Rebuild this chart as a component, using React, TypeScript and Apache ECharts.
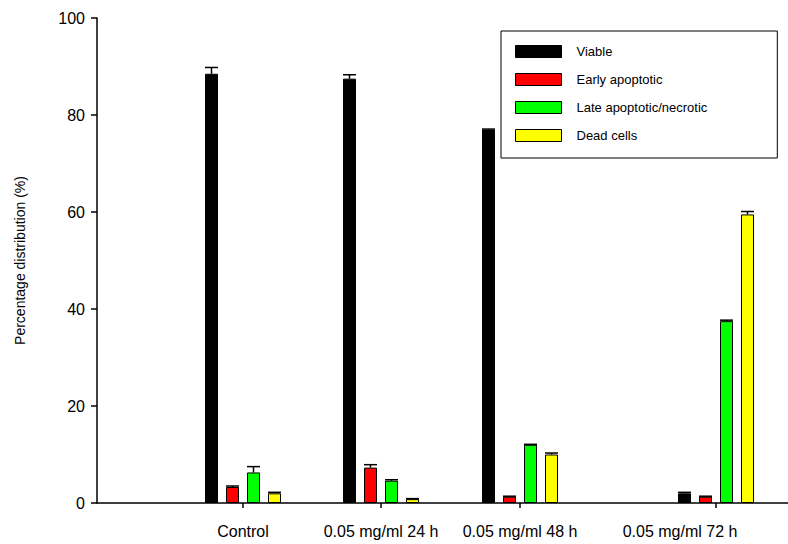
import { useEffect, useRef } from 'react'
import * as echarts from 'echarts'

const categories = ['Control', '0.05 mg/ml 24 h', '0.05 mg/ml 48 h', '0.05 mg/ml 72 h']
const groupPos = [243, 381, 520, 716]
const seriesNames = ['Viable', 'Early apoptotic', 'Late apoptotic/necrotic', 'Dead cells']
const colors = ['#000000', '#ff0000', '#00ff00', '#ffff00']
const offsets = [-31.5, -10.5, 10.5, 31.5]
const values = [
  [88.5, 87.5, 77, 2],
  [3.3, 7.3, 1.3, 1.3],
  [6.3, 4.6, 12, 37.5],
  [2, 0.8, 10, 59.5],
]
const errors = [
  [1.3, 0.8, 0.1, 0.2],
  [0.2, 0.6, 0.1, 0.1],
  [1.2, 0.2, 0.1, 0.2],
  [0.2, 0.1, 0.3, 0.6],
]
const yTicks = [0, 20, 40, 60, 80, 100]

export default function App() {
  const ref = useRef<HTMLDivElement>(null)

  useEffect(() => {
    if (!ref.current) return
    const chart = echarts.init(ref.current, undefined, { renderer: 'svg' })
    const barSeries = seriesNames.map((name, s) => ({
      type: 'bar', name, barWidth: 13, barGap: '-100%',
      data: values[s].map((v, i) => [groupPos[i] + offsets[s], v]),
      itemStyle: { color: colors[s], borderColor: '#000', borderWidth: 1 },
      z: 3,
    }))
    const errSeries = seriesNames.map((name, s) => ({
      type: 'custom', name: name + ' err', z: 4,
      data: values[s].map((v, i) => [groupPos[i] + offsets[s], v, v + errors[s][i]]),
      renderItem: (_p: any, api: any) => {
        const lo = api.coord([api.value(0), api.value(1)])
        const hi = api.coord([api.value(0), api.value(2)])
        const st = { stroke: '#000', lineWidth: 1.5 }
        return {
          type: 'group',
          children: [
            { type: 'line', shape: { x1: lo[0], y1: lo[1], x2: hi[0], y2: hi[1] }, style: st },
            { type: 'line', shape: { x1: hi[0] - 6.5, y1: hi[1], x2: hi[0] + 6.5, y2: hi[1] }, style: st },
          ],
        }
      },
    }))
    chart.setOption({
      animation: false,
      textStyle: { fontFamily: 'Liberation Sans, Arial, sans-serif' },
      grid: { left: 97, right: 0, top: 18, bottom: 41 },
      legend: {
        data: seriesNames, orient: 'vertical', left: 501, top: 31, width: 278,
        icon: 'rect', itemWidth: 46, itemHeight: 12, itemGap: 15, padding: [14, 70, 16, 14],
        borderColor: '#000', borderWidth: 1, backgroundColor: '#fff',
        textStyle: { fontSize: 13, color: '#000', padding: [0, 0, 0, 10] },
        itemStyle: { borderColor: '#000', borderWidth: 1 },
      },
      xAxis: {
        type: 'value', min: 97, max: 788,
        axisLine: { lineStyle: { color: '#000', width: 1.5 } },
        splitLine: { show: false },
        axisTick: { customValues: groupPos, length: 5, lineStyle: { color: '#000', width: 1.5 } },
        axisLabel: {
          customValues: groupPos, margin: 20, fontSize: 16, color: '#000',
          formatter: (v: number) => {
            const i = groupPos.indexOf(v)
            return i === 3 ? '{last|' + categories[i] + '}' : categories[i]
          },
          rich: { last: { fontSize: 16, color: '#000', padding: [0, 72, 0, 0] } },
        },
      },
      yAxis: {
        type: 'value', min: 0, max: 100, interval: 20,
        name: 'Percentage distribution (%)', nameLocation: 'middle', nameGap: 70,
        nameTextStyle: { fontSize: 14, color: '#000' },
        axisLine: { show: true, lineStyle: { color: '#000', width: 1.5 } },
        axisTick: { show: true, length: 6, lineStyle: { color: '#000', width: 1.5 } },
        axisLabel: { fontSize: 16, color: '#000', margin: 12, formatter: (v: number) => (yTicks.includes(v) ? String(v) : '') },
        splitLine: { show: false },
      },
      series: [...barSeries, ...errSeries],
    })
    return () => chart.dispose()
  }, [])

  return <div ref={ref} style={{ position: 'fixed', left: 0, top: 0, width: 788, height: 544, background: '#fff' }} />
}
